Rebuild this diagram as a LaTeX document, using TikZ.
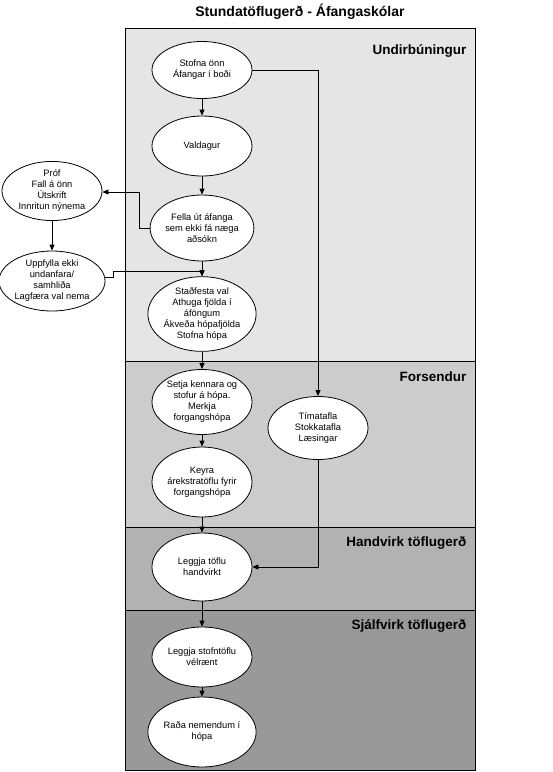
\documentclass[tikz,border=0pt]{standalone}
\usepackage{fontspec}
\setmainfont{Liberation Sans}
\usetikzlibrary{shapes.geometric,arrows.meta}
\begin{document}
\begin{tikzpicture}[x=1pt,y=-1pt,
  proc/.style={ellipse,draw=black,fill=white,line width=0.8pt,inner sep=0pt,
    minimum width=100pt,minimum height=62pt,align=center,
    font=\fontsize{9.3}{11}\selectfont},
  band/.style={draw=black,line width=0.8pt},
  bandlabel/.style={anchor=east,font=\fontsize{13.5}{15}\selectfont\bfseries},
  conn/.style={draw=black,line width=0.8pt,-{Triangle[width=5pt,length=6pt]}},
  line/.style={draw=black,line width=0.8pt}]
\useasboundingbox (0,0) rectangle (553,772);
% bands
\fill[fill=black!10] (125,28) rectangle (475,361);
\fill[fill=black!20] (125,361) rectangle (475,527);
\fill[fill=black!30] (125,527) rectangle (475,610);
\fill[fill=black!40] (125,610) rectangle (475,770);
\draw[band] (125,361) -- (475,361);
\draw[band] (125,527) -- (475,527);
\draw[band] (125,610) -- (475,610);
\draw[band] (125,28) rectangle (475,770);
% title and labels
\node[font=\fontsize{14}{16}\selectfont\bfseries] (title) at (300,12) {Stundatöflugerð - Áfangaskólar};
\node[bandlabel] (l1) at (470,51) {Undirbúningur};
\node[bandlabel] (l2) at (470,377) {Forsendur};
\node[bandlabel] (l3) at (470,543) {Handvirk töflugerð};
\node[bandlabel] (l4) at (470,626) {Sjálfvirk töflugerð};
% nodes
\node[proc,minimum height=57pt] (stofna) at (202,70) {Stofna önn\\Áfangar í boði};
\node[proc,minimum height=60pt] (valdagur) at (202,146) {Valdagur};
\node[proc,minimum height=66pt] (fella) at (202,228) {Fella út áfanga\\sem ekki fá næga\\aðsókn};
\node[proc,minimum width=96pt,minimum height=64pt] (stadfesta) at (202,314) {Staðfesta val\\Athuga fjölda í\\áföngum\\Ákveða hópafjölda\\Stofna hópa};
\node[proc,minimum height=65pt] (setja) at (202,402) {Setja kennara og\\stofur á hópa.\\Merkja\\forgangshópa};
\node[proc,minimum height=63pt] (tima) at (318,428) {Tímatafla\\Stokkatafla\\Læsingar};
\node[proc,minimum height=70pt] (keyra) at (202,482) {Keyra\\árekstratöflu fyrir\\forgangshópa};
\node[proc,minimum height=68pt] (leggja) at (202,567) {Leggja töflu\\handvirkt};
\node[proc,minimum height=60pt] (velraent) at (202,657) {Leggja stofntöflu\\vélrænt};
\node[proc,minimum height=70pt] (rada) at (202,732) {Raða nemendum í\\hópa};
\node[proc,minimum height=54pt] (prof) at (52,191) {Próf\\Fall á önn\\Útskrift\\Innritun nýnema};
\node[proc,minimum height=60pt] (uppfylla) at (52,281) {Uppfylla ekki\\undanfara/\\samhliða\\Lagfæra val nema};
% connectors
\draw[conn] (stofna) -- (valdagur);
\draw[conn] (valdagur) -- (fella);
\draw[conn] (fella) -- (stadfesta);
\draw[conn] (stadfesta) -- (setja);
\draw[conn] (setja) -- (keyra);
\draw[conn] (keyra) -- (leggja);
\draw[conn] (leggja) -- (velraent);
\draw[conn] (velraent) -- (rada);
\draw[conn] (prof) -- (uppfylla);
\coordinate (f1) at (139,228);
\coordinate (f2) at (139,192);
\draw[conn] (fella.west) -- (f1) -- (f2) -- (prof.east |- f2);
\coordinate (u1) at (113,277);
\coordinate (u2) at (113,271);
\coordinate (u3) at (202,271);
\draw[conn] (uppfylla.east |- u1) -- (u1) -- (u2) -- (u3) -- (stadfesta.north);
\coordinate (s1) at (318,70);
\draw[conn] (stofna.east) -- (s1) -- (tima.north);
\coordinate (t1) at (318,567);
\draw[conn] (tima.south) -- (t1) -- (leggja.east);
\end{tikzpicture}
\end{document}
